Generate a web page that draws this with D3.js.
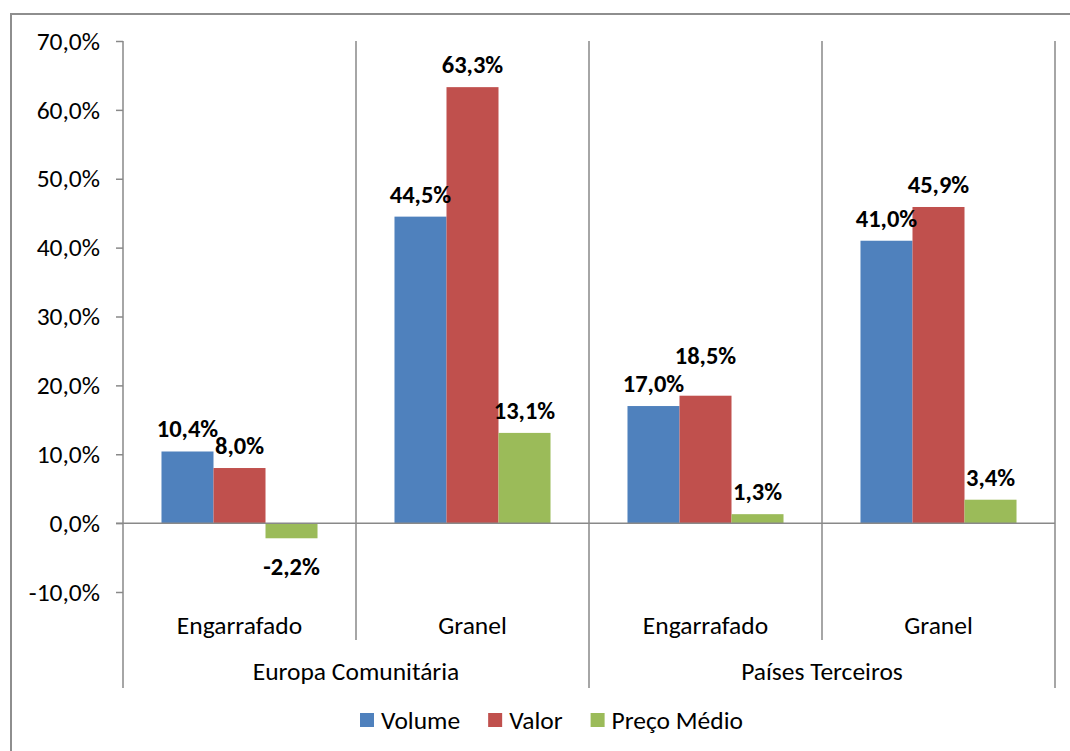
<!DOCTYPE html>
<html><head><meta charset="utf-8">
<script src="https://cdn.jsdelivr.net/npm/d3@7"></script>
<style>
html,body{margin:0;padding:0;background:#fff;}
svg text{font-family:Carlito, Lato, "Open Sans", sans-serif;fill:#000;}
</style></head>
<body>
<svg id="chart" width="1070" height="751"></svg>
<script>
const groups = ["Europa Comunitária", "Países Terceiros"];
const categories = ["Engarrafado", "Granel", "Engarrafado", "Granel"];
const series = ["Volume", "Valor", "Preço Médio"];
const volume = [10.4, 44.5, 17.0, 41.0];
const valor = [8.0, 63.3, 18.5, 45.9];
const precoMedio = [-2.2, 13.1, 1.3, 3.4];
const yTicks = [-10, 0, 10, 20, 30, 40, 50, 60, 70];
const colors = ["#4F81BD", "#C0504D", "#9BBB59"];

(function () {
const values = [volume, valor, precoMedio];
const svg = d3.select("#chart");
const axisColor = "#898989";
const fs = 25.5;
const locale = d3.formatLocale({decimal: ",", thousands: ".", grouping: [3], currency: ["", ""], minus: "-"});
const f1 = locale.format(".1f");
const fmt = v => f1(v) + "%";

// outer border
svg.append("path").attr("d", "M11,760 V14 H1080").attr("fill", "none")
  .attr("stroke", "#8e8e8e").attr("stroke-width", 2);

const pLeft = 123, pRight = 1055, pTop = 41, pBottom = 592;
const y = d3.scaleLinear().domain([-10, 70]).range([pBottom, pTop]);
const x = d3.scaleBand().domain(d3.range(categories.length)).range([pLeft, pRight]).padding(0);
const xs = d3.scaleBand().domain(series).range([0, x.bandwidth()]).paddingInner(0).paddingOuter(0.74);

// y axis
const yAxis = d3.axisLeft(y).tickValues(yTicks).tickSize(7).tickPadding(16)
  .tickFormat(d => fmt(d));
const ya = svg.append("g").attr("transform", `translate(${pLeft},0)`).call(yAxis);
ya.select(".domain").remove();
ya.selectAll(".tick line").attr("stroke", axisColor).attr("stroke-width", 1.5);
ya.selectAll(".tick text").attr("font-size", fs).attr("fill", "#000");
svg.append("line").attr("x1", pLeft).attr("x2", pLeft).attr("y1", pTop).attr("y2", 688)
  .attr("stroke", axisColor).attr("stroke-width", 1.5);

// category separators
for (let i = 1; i <= categories.length; i++) {
  const xx = i < categories.length ? x(i) : pRight;
  const endY = (i % 2 === 0) ? 688 : 640;
  svg.append("line").attr("x1", xx).attr("x2", xx).attr("y1", pTop).attr("y2", endY)
    .attr("stroke", axisColor).attr("stroke-width", 1.5);
}

// bars
const bars = [];
categories.forEach((c, i) => {
  series.forEach((s, j) => {
    bars.push({i, j, s, v: values[j][i]});
  });
});
svg.append("g").selectAll("rect").data(bars).join("rect")
  .attr("x", d => x(d.i) + xs(d.s))
  .attr("width", xs.bandwidth())
  .attr("y", d => y(Math.max(0, d.v)))
  .attr("height", d => Math.abs(y(d.v) - y(0)))
  .attr("fill", d => colors[d.j]);

// zero line
svg.append("line").attr("x1", pLeft - 7).attr("x2", pRight).attr("y1", y(0)).attr("y2", y(0))
  .attr("stroke", axisColor).attr("stroke-width", 1.5);

// data labels
const labelG = svg.append("g");
const placed = [];
bars.forEach(d => {
  const cx = x(d.i) + xs(d.s) + xs.bandwidth() / 2;
  let cy = d.v >= 0 ? y(d.v) - 22 : y(d.v) + 29;
  const t = labelG.append("text").attr("x", cx).attr("text-anchor", "middle")
    .attr("dominant-baseline", "central")
    .attr("font-size", 24.5).attr("font-weight", "bold").text(fmt(d.v));
  const w = t.node().getComputedTextLength();
  placed.forEach(p => {
    const overlapX = (p.w + w) / 2 - Math.abs(p.cx - cx);
    if (overlapX > 6 && Math.abs(p.cy - cy) < 20) cy = p.cy - 28;
  });
  t.attr("y", cy);
  placed.push({cx, cy, w});
});

// category labels
categories.forEach((c, i) => {
  svg.append("text").attr("x", x(i) + x.bandwidth() / 2).attr("y", 625)
    .attr("text-anchor", "middle").attr("dominant-baseline", "central")
    .attr("font-size", fs).text(c);
});
groups.forEach((g, k) => {
  svg.append("text").attr("x", x(k * 2) + x.bandwidth()).attr("y", 671)
    .attr("text-anchor", "middle").attr("dominant-baseline", "central")
    .attr("font-size", fs).text(g);
});

// legend
const legend = svg.append("g");
const items = [];
series.forEach((s, j) => {
  const g = legend.append("g");
  g.append("rect").attr("x", 0).attr("y", -7).attr("width", 14).attr("height", 14).attr("fill", colors[j]);
  const t = g.append("text").attr("x", 21).attr("y", 0).attr("dominant-baseline", "central")
    .attr("font-size", fs).text(s);
  items.push({g, w: 21 + t.node().getComputedTextLength()});
});
const gap = 28;
const total = d3.sum(items, d => d.w) + gap * (items.length - 1);
let start = (359 + 744) / 2 - total / 2;
items.forEach(it => { it.g.attr("transform", `translate(${start},720)`); start += it.w + gap; });
})();
</script>
</body></html>
